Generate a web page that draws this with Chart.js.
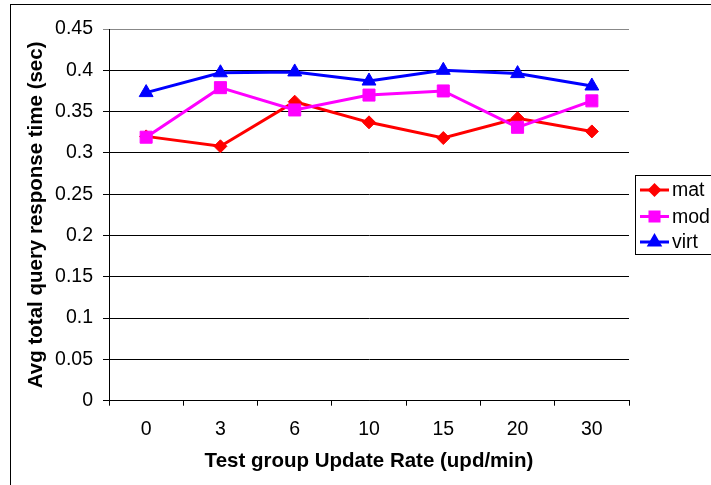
<!DOCTYPE html>
<html>
<head>
<meta charset="utf-8">
<script src="https://cdn.jsdelivr.net/npm/chart.js@4"></script>
<style>
  html, body { margin: 0; padding: 0; background: #fff; }
  canvas { display: block; }
</style>
</head>
<body>
<canvas id="chart" width="711" height="485"></canvas>
<script>
// ===== DADOS =====
const categorias = ["0", "3", "6", "10", "15", "20", "30"];
const serieMat = [0.320, 0.308, 0.362, 0.337, 0.318, 0.342, 0.326];
const serieMod = [0.319, 0.379, 0.352, 0.370, 0.375, 0.331, 0.363];
const serieVirt = [0.373, 0.397, 0.398, 0.387, 0.400, 0.396, 0.381];
const nomes = ["mat", "mod", "virt"];

const FONTE = "'Liberation Sans', Arial, sans-serif";

// moldura externa (como a imagem original)
const moldura = {
  id: "moldura",
  beforeDraw(chart) {
    const ctx = chart.ctx;
    ctx.save();
    ctx.fillStyle = "#fff";
    ctx.fillRect(0, 0, chart.width, chart.height);
    ctx.strokeStyle = "#000";
    ctx.lineWidth = 1;
    ctx.strokeRect(10.5, 4.5, 800, 600);
    ctx.restore();
  },
};

// legenda desenhada a mao, no estilo do Excel
const legenda = {
  id: "legenda",
  afterDraw(chart) {
    const ctx = chart.ctx;
    ctx.save();
    ctx.strokeStyle = "#000";
    ctx.lineWidth = 1;
    ctx.strokeRect(635.5, 175.5, 100, 79);
    const ys = [190, 216.5, 242];
    chart.data.datasets.forEach((ds, i) => {
      const y = ys[i];
      ctx.strokeStyle = ds.borderColor;
      ctx.lineWidth = 3;
      ctx.beginPath();
      ctx.moveTo(640, y);
      ctx.lineTo(669, y);
      ctx.stroke();
      ctx.fillStyle = ds.backgroundColor;
      ctx.strokeStyle = ds.borderColor;
      Chart.helpers.drawPoint(ctx, {
        pointStyle: ds.pointStyle,
        radius: ds.pointRadius * 0.75,
        rotation: 0,
        borderWidth: 1,
      }, 654.5, y);
      ctx.fillStyle = "#000";
      ctx.font = "19.5px " + FONTE;
      ctx.textAlign = "left";
      ctx.textBaseline = "middle";
      ctx.fillText(ds.label, 672, y + 1);
    });
    ctx.restore();
  },
};

function serie(label, dados, cor, estilo, raio, ordem) {
  return {
    label: label,
    data: dados,
    borderColor: cor,
    backgroundColor: cor,
    borderWidth: 3,
    pointStyle: estilo,
    pointRadius: raio,
    pointHoverRadius: raio,
    pointBorderWidth: 1,
    tension: 0,
    order: ordem,
  };
}

new Chart(document.getElementById("chart"), {
  type: "line",
  data: {
    labels: categorias,
    datasets: [
      serie(nomes[0], serieMat, "#ff0000", "rectRot", 6.5, 3),
      serie(nomes[1], serieMod, "#ff00ff", "rect", 8.5, 2),
      serie(nomes[2], serieVirt, "#0000ff", "triangle", 8, 1),
    ],
  },
  options: {
    responsive: false,
    animation: false,
    layout: { padding: { top: 29, right: 82, bottom: 0, left: 0 } },
    plugins: {
      legend: { display: false },
      tooltip: { enabled: false },
    },
    scales: {
      x: {
        offset: true,
        grid: {
          offset: true,
          drawOnChartArea: false,
          tickLength: 5,
          color: "#000",
        },
        border: { color: "#000", width: 1 },
        ticks: {
          color: "#000",
          padding: 12,
          maxRotation: 0,
          font: { family: FONTE, size: 19.5 },
        },
        title: {
          display: true,
          text: "Test group Update Rate (upd/min)",
          color: "#000",
          padding: { top: 0, bottom: 11 },
          font: { family: FONTE, size: 20.5, weight: "bold" },
        },
        afterFit: (s) => { s.height = 84.3; },
      },
      y: {
        min: 0,
        max: 0.45,
        grid: {
          color: (c) => (c.tick && c.tick.value > 0.44 ? "#888" : "#000"),
          tickLength: 6,
        },
        border: { color: "#000", width: 1 },
        ticks: {
          stepSize: 0.05,
          color: "#000",
          padding: 10,
          font: { family: FONTE, size: 19.5 },
          callback: (v) => String(Number(v.toFixed(2))),
        },
        title: {
          display: true,
          text: "Avg total query response time (sec)",
          color: "#000",
          padding: { top: 24, bottom: 0 },
          font: { family: FONTE, size: 20.5, weight: "bold" },
        },
        afterFit: (s) => { s.width = 109; },
      },
    },
  },
  plugins: [moldura, legenda],
});
</script>
</body>
</html>
